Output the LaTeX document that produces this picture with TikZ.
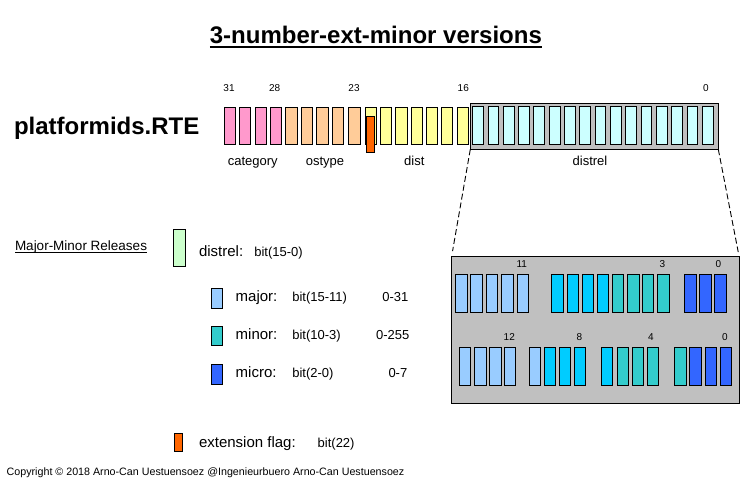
\documentclass[tikz,border=0pt]{standalone}
\usepackage{fontspec}
\setmainfont{Liberation Sans}
\definecolor{pinkbit}{HTML}{FF99CC}
\definecolor{peachbit}{HTML}{FFCC99}
\definecolor{yellowbit}{HTML}{FFFF99}
\definecolor{cyanbit}{HTML}{CCFFFF}
\definecolor{graybg}{HTML}{C0C0C0}
\definecolor{flagbit}{HTML}{FF6600}
\definecolor{majorbit}{HTML}{99CCFF}
\definecolor{skybit}{HTML}{00CCFF}
\definecolor{minorbit}{HTML}{33CCCC}
\definecolor{microbit}{HTML}{3366FF}
\definecolor{distrelbit}{HTML}{CCFFCC}
\begin{document}
\begin{tikzpicture}[x=1pt,y=-1pt,
  bitbox/.style={draw=black,line width=1pt},
  txt/.style={inner sep=0pt,outer sep=0pt},
  ttl/.style={txt,font=\fontsize{24}{28}\selectfont\bfseries},
  big/.style={txt,font=\fontsize{24}{28}\selectfont\bfseries},
  lbl/.style={txt,font=\fontsize{13}{15}\selectfont},
  leg/.style={txt,font=\fontsize{15}{18}\selectfont},
  num/.style={txt,font=\fontsize{10}{12}\selectfont},
  small/.style={txt,font=\fontsize{10.7}{13}\selectfont},
  conn/.style={draw=black,line width=0.9pt,dash pattern=on 6pt off 3pt}]
\useasboundingbox (0,0) rectangle (751,479);

% title
\node[ttl,anchor=base] (title) at (375.9,43) {3-number-ext-minor versions};
\draw[line width=2.3pt] ([yshift=-4.3pt]title.base west) -- ([yshift=-4.3pt]title.base east);

\node[big,anchor=base west] (rte) at (14,134.3) {platformids.RTE};

% upper register
\foreach \x/\c in {224.3/pinkbit,239.3/pinkbit,255/pinkbit,270.3/pinkbit,
  285.7/peachbit,301.3/peachbit,316.7/peachbit,332.3/peachbit,348.7/peachbit,
  365.3/yellowbit,380.3/yellowbit,395.7/yellowbit,411/yellowbit,426.3/yellowbit,441.3/yellowbit,457/yellowbit}
  \path[bitbox,fill=\c] (\x,107.3) rectangle ++(11.5,36.7);
\path[bitbox,fill=graybg] (470.3,103.3) rectangle (718.3,149.3);
\foreach \i in {0,...,15}
  \path[bitbox,fill=cyanbit] ({472.7+15.31*\i},106.8) rectangle ++(10.8,37.2);
\path[bitbox,fill=flagbit] (366.3,116.3) rectangle (374.3,152.3);

\node[num,anchor=base] (b31) at (229,91.7) {31};
\node[num,anchor=base] (b28) at (274.7,91.7) {28};
\node[num,anchor=base] (b23) at (354,91.7) {23};
\node[num,anchor=base] (b16) at (463.3,91.7) {16};
\node[num,anchor=base] (b0) at (706,91.7) {0};

\node[lbl,anchor=base] (category) at (252.7,165.5) {category};
\node[lbl,anchor=base] (ostype) at (325,165.5) {ostype};
\node[lbl,anchor=base] (dist) at (414.3,165.5) {dist};
\node[lbl,anchor=base] (distrel) at (590,165.5) {distrel};

% zoom connectors
\coordinate (upsw) at (470.3,149.3);
\coordinate (upse) at (718.3,149.3);
\coordinate (lonw) at (451.7,256);
\coordinate (lone) at (739,256);
\draw[conn,shorten >=5pt] (upsw) -- (lonw);
\draw[conn,shorten >=4pt] (upse) -- (lone);

% lower register
\path[bitbox,fill=graybg] (lonw) rectangle (739,403.3);
\foreach \x/\c in {455.7/majorbit,470.7/majorbit,486.3/majorbit,501.7/majorbit,517.3/majorbit,
  551.7/skybit,567/skybit,582.3/skybit,597.3/skybit,612.3/minorbit,627.7/minorbit,642.3/minorbit,657.7/minorbit,
  684.7/microbit,699.7/microbit,714.7/microbit}
  \path[bitbox,fill=\c] (\x,274.6) rectangle ++(11.5,38.2);
\foreach \x/\c in {459.3/majorbit,474.7/majorbit,489.7/majorbit,504.3/majorbit,
  529.3/majorbit,544.3/skybit,559.3/skybit,574.3/skybit,
  601.3/skybit,617/minorbit,632.3/minorbit,647.3/minorbit,
  674.7/minorbit,689.7/microbit,705/microbit,720.3/microbit}
  \path[bitbox,fill=\c] (\x,347) rectangle ++(11.5,38.3);

\node[num,anchor=base] (l11) at (521.7,267.5) {11};
\node[num,anchor=base] (l3) at (662.3,267.8) {3};
\node[num,anchor=base] (l0a) at (718.3,267.8) {0};
\node[num,anchor=base] (l12) at (509.3,340.8) {12};
\node[num,anchor=base] (l8) at (579.3,340.8) {8};
\node[num,anchor=base] (l4) at (651,340.8) {4};
\node[num,anchor=base] (l0b) at (725,340.3) {0};

% legend
\node[lbl,anchor=base west,font=\fontsize{13.5}{16}\selectfont] (mmr) at (15,250.7) {Major-Minor Releases};
\draw[line width=0.8pt] ([yshift=-2pt]mmr.base west) -- ([yshift=-2pt]mmr.base east);

\path[bitbox,fill=distrelbit] (173.3,229) rectangle (185.3,266.3);
\node[leg,anchor=base west] (kdistrel) at (199,256.7) {distrel:};
\node[lbl,anchor=base west] (bdistrel) at (254.3,256.7) {bit(15-0)};

\path[bitbox,fill=majorbit] (211.3,288.7) rectangle (222.7,308.3);
\node[leg,anchor=base west] (kmajor) at (235.7,301.7) {major:};
\node[lbl,anchor=base west] (bmajor) at (292.3,301.7) {bit(15-11)};
\node[lbl,anchor=base east] (rmajor) at (408.3,301.7) {0-31};

\path[bitbox,fill=minorbit] (211.3,326.2) rectangle (222.7,345.3);
\node[leg,anchor=base west] (kminor) at (235.7,339.3) {minor:};
\node[lbl,anchor=base west] (bminor) at (292.3,339.3) {bit(10-3)};
\node[lbl,anchor=base east] (rminor) at (409.3,339.3) {0-255};

\path[bitbox,fill=microbit] (211.3,364.3) rectangle (222.7,384.3);
\node[leg,anchor=base west] (kmicro) at (235.7,377.7) {micro:};
\node[lbl,anchor=base west] (bmicro) at (292.3,377.7) {bit(2-0)};
\node[lbl,anchor=base east] (rmicro) at (407.3,377.7) {0-7};

\path[bitbox,fill=flagbit] (174.7,433.3) rectangle (182.7,451);
\node[leg,anchor=base west] (kflag) at (199,447.3) {extension flag:};
\node[lbl,anchor=base west] (bflag) at (317.7,447.3) {bit(22)};

\node[small,anchor=base west] (copy) at (6.7,475.7) {Copyright © 2018 Arno-Can Uestuensoez @Ingenieurbuero Arno-Can Uestuensoez};
\end{tikzpicture}
\end{document}
